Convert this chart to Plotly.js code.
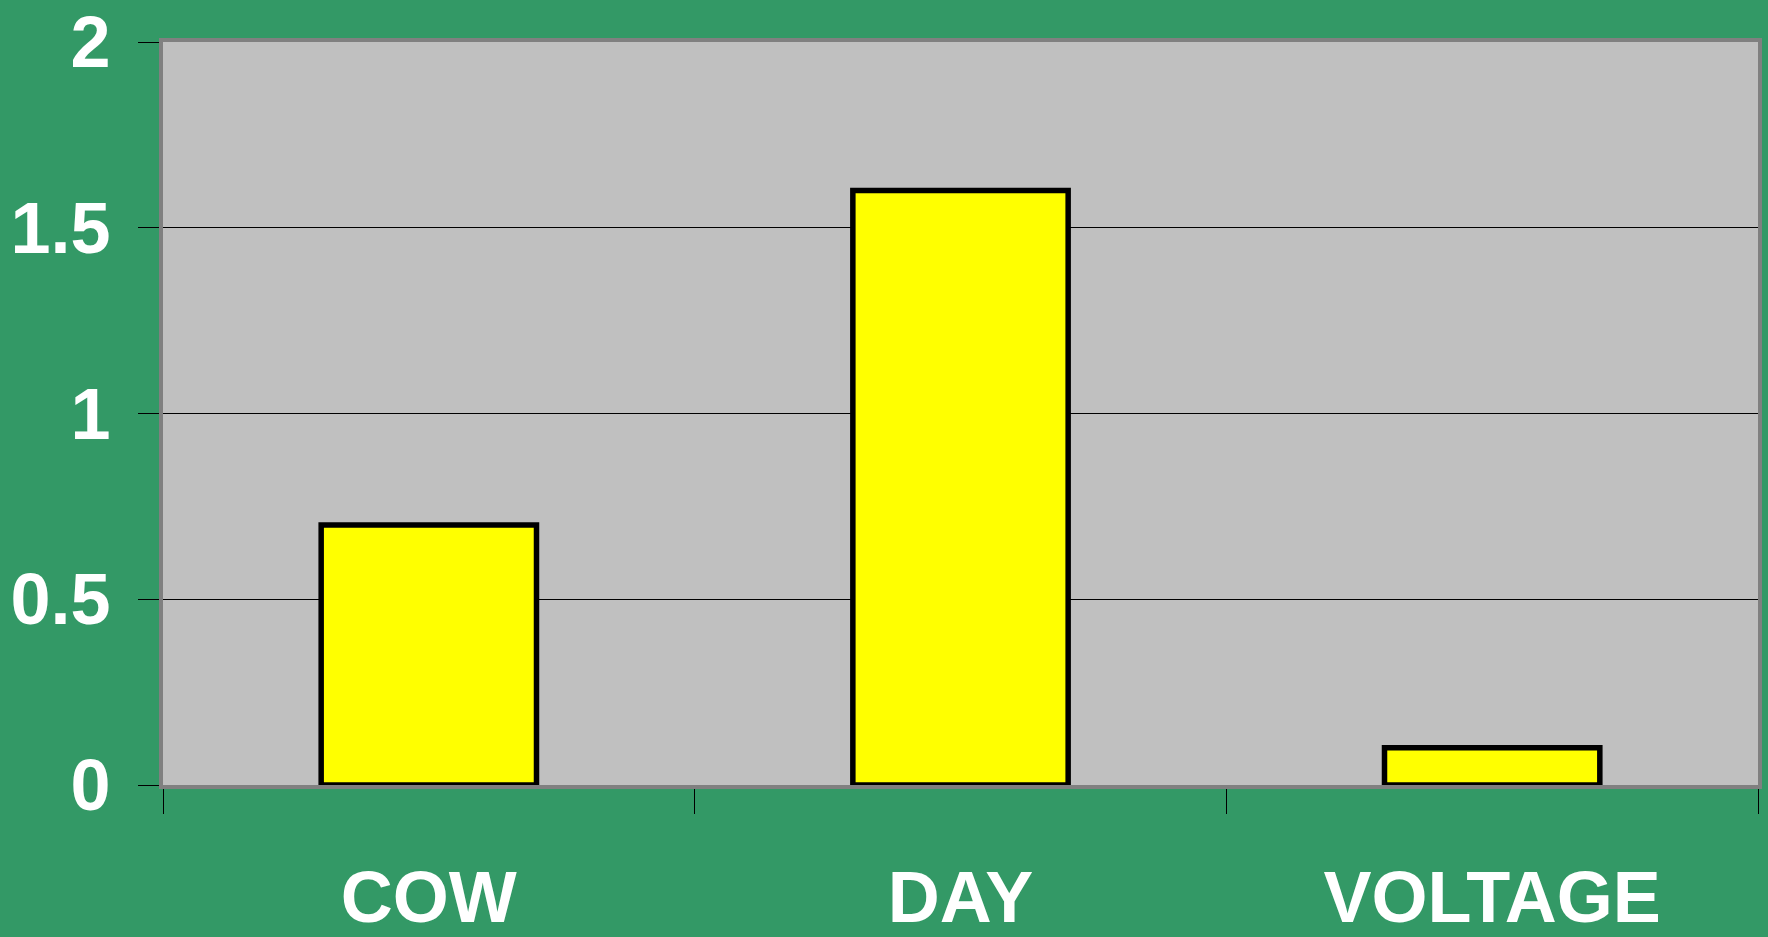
<!DOCTYPE html>
<html>
<head>
<meta charset="utf-8">
<script src="https://cdn.plot.ly/plotly-3.0.1.min.js"></script>
<style>
html,body{margin:0;padding:0;background:#339966;}
#chart{width:1768px;height:937px;}
</style>
</head>
<body>
<div id="chart"></div>
<script>
const categories = ["COW", "DAY", "VOLTAGE"];
const values = [0.7, 1.6, 0.1];
const yTickVals = [0, 0.5, 1, 1.5, 2];
const yTickText = ["0", "0.5", "1", "1.5", "2"];

const labelFont = {family: "'Liberation Sans', Arial, sans-serif", size: 72, color: "#FFFFFF", weight: "bold"};

const trace = {
  type: "bar",
  x: categories,
  y: values,
  width: 0.405,
  marker: {color: "#FFFF00", line: {color: "#000000", width: 5.5}},
  hoverinfo: "skip"
};

const layout = {
  width: 1768,
  height: 937,
  paper_bgcolor: "#339966",
  plot_bgcolor: "#C0C0C0",
  margin: {l: 163, r: 10, t: 42, b: 152},
  showlegend: false,
  xaxis: {
    type: "category",
    tickson: "boundaries",
    ticks: "outside",
    ticklen: 25,
    tickwidth: 1,
    tickcolor: "#000000",
    showline: true,
    linecolor: "#808080",
    linewidth: 4,
    mirror: true,
    showgrid: false,
    tickfont: labelFont,
    ticklabelstandoff: 47,
    fixedrange: true
  },
  yaxis: {
    range: [0, 2],
    tickvals: yTickVals,
    ticktext: yTickText,
    ticks: "outside",
    ticklen: 21,
    tickwidth: 1,
    tickcolor: "#000000",
    showline: true,
    linecolor: "#808080",
    linewidth: 4,
    mirror: true,
    showgrid: true,
    gridcolor: "#000000",
    gridwidth: 1,
    zeroline: false,
    tickfont: labelFont,
    ticklabelstandoff: 13,
    fixedrange: true
  }
};

Plotly.newPlot("chart", [trace], layout, {displayModeBar: false, staticPlot: true});
</script>
</body>
</html>
